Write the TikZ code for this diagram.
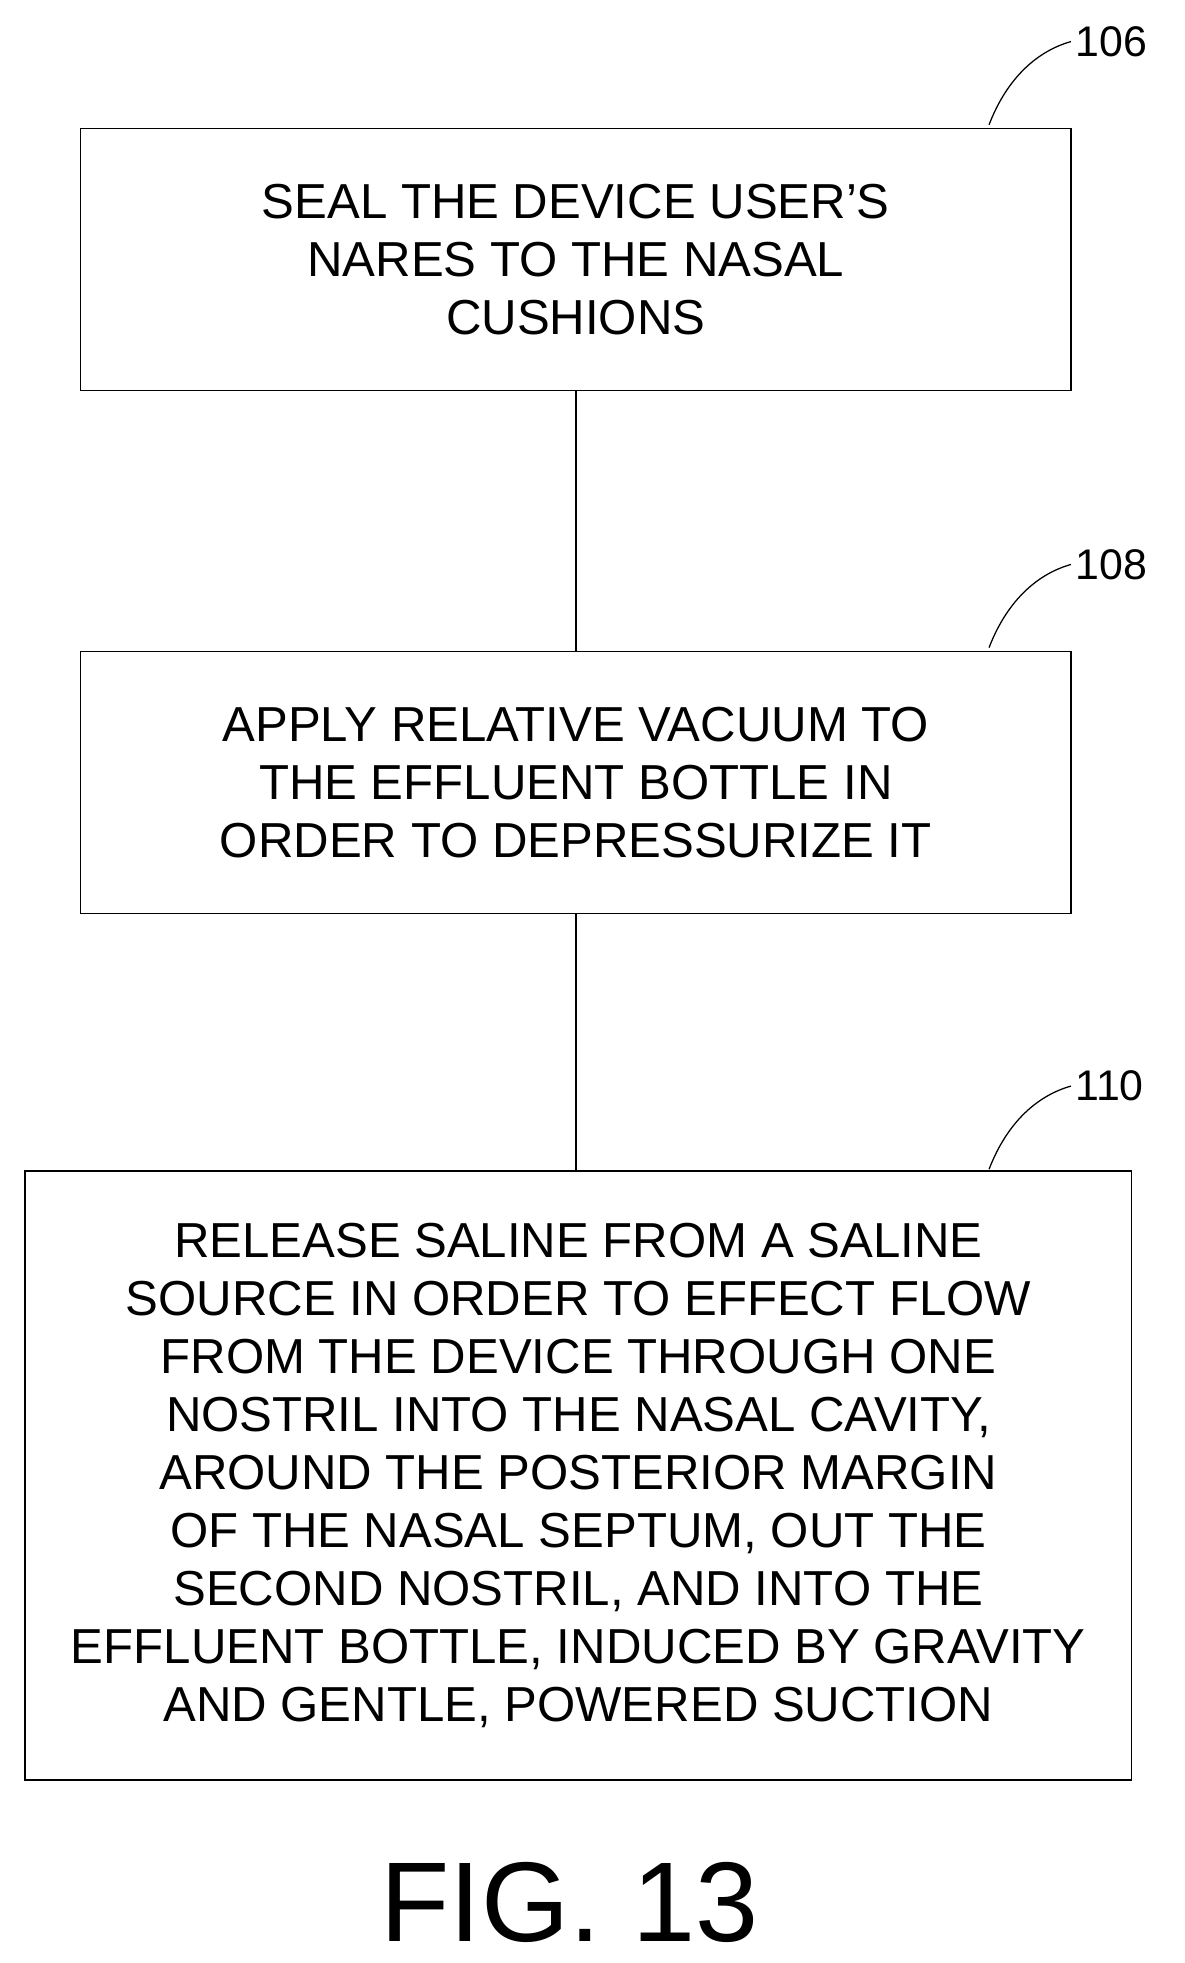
\documentclass[tikz,border=0pt]{standalone}
\usepackage{fontspec}
\setmainfont{Liberation Sans}
\usetikzlibrary{positioning}
\begin{document}
\begin{tikzpicture}[x=1pt, y=-1pt,
                    stepbox/.style={draw, line width=1.3pt, align=center, font=\fontsize{39}{46}\selectfont},
                    link/.style={line width=1.3pt},
                    refnum/.style={font=\fontsize{34}{40}\selectfont}]
\useasboundingbox (0,0) rectangle (940,1558);
% steps
\node[stepbox, minimum width=786pt, minimum height=208pt] (seal) at (457,206)
    {SEAL THE DEVICE USER'S\\NARES TO THE NASAL\\CUSHIONS};
\node[stepbox, minimum width=786pt, minimum height=208pt] (vacuum) at (457,621)
    {APPLY RELATIVE VACUUM TO\\THE EFFLUENT BOTTLE IN\\ORDER TO DEPRESSURIZE IT};
\node[stepbox, minimum width=878pt, minimum height=483pt] (saline) at (459,1171)
    {RELEASE SALINE FROM A SALINE\\SOURCE IN ORDER TO EFFECT FLOW\\FROM THE DEVICE THROUGH ONE\\NOSTRIL INTO THE NASAL CAVITY,\\AROUND THE POSTERIOR MARGIN\\OF THE NASAL SEPTUM, OUT THE\\SECOND NOSTRIL, AND INTO THE\\EFFLUENT BOTTLE, INDUCED BY GRAVITY\\AND GENTLE, POWERED SUCTION};
% connectors
\draw[link] (seal.south) -- (vacuum.north);
\draw[link] (vacuum.south) -- (saline.north -| vacuum.south);
% reference numbers
\node[refnum, anchor=west] (n106) at (850,33) {106};
\node[refnum, anchor=west] (n108) at (850,448) {108};
\node[refnum, anchor=west] (n110) at (850,862) {110};
\draw[line width=1pt] (785,99) .. controls (800,60) and (825,40) .. (n106.west);
\draw[line width=1pt] (785,514) .. controls (800,475) and (825,455) .. (n108.west);
\draw[line width=1pt] (785,928) .. controls (800,889) and (825,869) .. (n110.west);
% figure label
\node[font=\fontsize{90}{100}\selectfont] (fig) at (452,1510) {FIG. 13};
\end{tikzpicture}
\end{document}
